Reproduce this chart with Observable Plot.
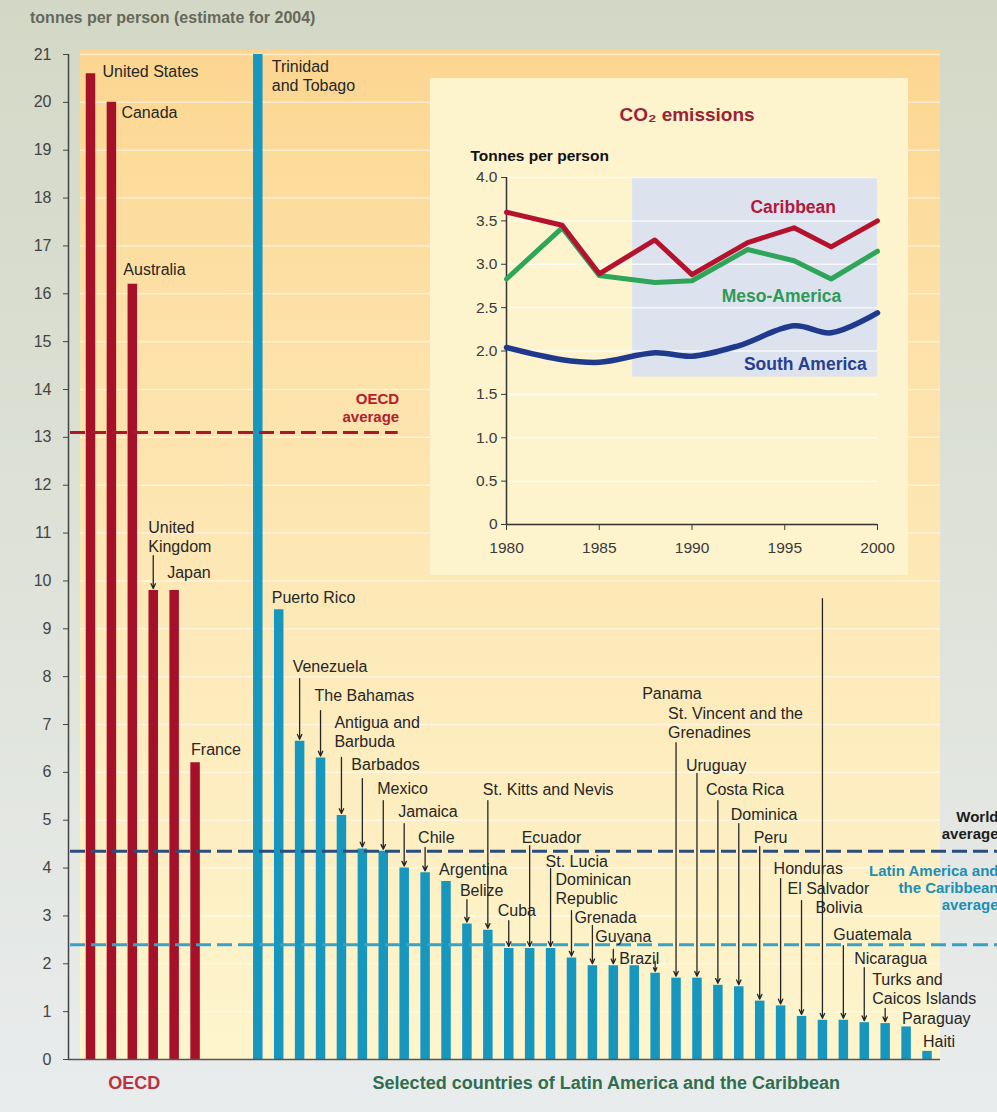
<!DOCTYPE html>
<html><head><meta charset="utf-8">
<script src="https://cdn.jsdelivr.net/npm/d3@7"></script>
<script src="https://cdn.jsdelivr.net/npm/@observablehq/plot@0.6"></script>
<style>
html,body{margin:0;padding:0}
body{width:997px;height:1112px;position:relative;overflow:hidden;background:linear-gradient(to bottom,#d3d8c6 0%,#dde1d6 45%,#e9eced 100%);font-family:"Liberation Sans",Arial,sans-serif}
#panel{position:absolute;left:80px;top:50px;width:860px;height:1009px;background:linear-gradient(to bottom,#fcd690 0%,#fde0a6 25%,#fdeaba 60%,#fdf5cd 100%)}
#title{position:absolute;left:30px;top:9px;font-weight:bold;font-size:16px;color:#66685a;white-space:nowrap}
#main{position:absolute;left:0;top:0}
#inset{position:absolute;left:430px;top:78px}
</style></head>
<body>
<div id="panel"></div>
<div id="title">tonnes per person (estimate for 2004)</div>
<div id="main"></div>
<div id="inset"></div>
<script>
// ---------- main chart data ----------
const oecdCountries = ["United States","Canada","Australia","United Kingdom","Japan","France"];
const oecdValues = [20.6, 20.0, 16.2, 9.8, 9.8, 6.2];
const oecdLabels = ["United States","Canada","Australia","United\nKingdom","Japan","France"];
const oecdLabelY = [20.66, 19.81, 16.53, 10.93, 10.2, 6.5];
const oecdLabelDx = [12, 10, -9, -5, -7, -4];
const oecdLeaderTop = [null, null, null, 10.53, null, null];

const lacCountries = ["Trinidad and Tobago","Puerto Rico","Venezuela","The Bahamas","Antigua and Barbuda","Barbados","Mexico","Jamaica","Chile","Argentina","Belize","St. Kitts and Nevis","Cuba","Ecuador","St. Lucia","Dominican Republic","Grenada","Guyana","Brazil","Panama","St. Vincent and the Grenadines","Uruguay","Costa Rica","Dominica","Peru","Honduras","El Salvador","Bolivia","Guatemala","Nicaragua","Turks and Caicos Islands","Paraguay","Haiti"];
const lacValues = [21.0, 9.4, 6.65, 6.3, 5.1, 4.4, 4.35, 4.0, 3.9, 3.72, 2.83, 2.7, 2.32, 2.32, 2.32, 2.12, 1.96, 1.96, 1.96, 1.8, 1.7, 1.7, 1.55, 1.52, 1.22, 1.12, 0.9, 0.82, 0.82, 0.77, 0.75, 0.68, 0.17];
const lacLabels = ["Trinidad\nand Tobago","Puerto Rico","Venezuela","The Bahamas","Antigua and\nBarbuda","Barbados","Mexico","Jamaica","Chile","Argentina","Belize","St. Kitts and Nevis","Cuba","Ecuador","St. Lucia","Dominican\nRepublic","Grenada","Guyana","Brazil","Panama","St. Vincent and the\nGrenadines","Uruguay","Costa Rica","Dominica","Peru","Honduras","El Salvador","Bolivia","Guatemala","Nicaragua","Turks and\nCaicos Islands","Paraguay","Haiti"];
const lacLabelY = [20.56, 9.67, 8.23, 7.61, 6.85, 6.18, 5.68, 5.2, 4.66, 3.99, 3.55, 5.66, 3.13, 4.66, 4.16, 3.57, 2.99, 2.59, 2.13, 7.67, 7.04, 6.16, 5.66, 5.14, 4.66, 4.01, 3.59, 3.18, 2.63, 2.13, 1.48, 0.88, 0.38];
const lacLabelDx = [14, -7, -7, -6, -7, -11, -6, -6, -7, -7, -7, -5, -11, -8, -5, -16, -18, -18, -15, -13, -8, -11, -12, -8, -6, -7, -14, -7, -10, -10, -13, -4, -4];
const lacLeaderTop = [null, null, 7.96, 7.29, 6.31, 5.87, 5.41, 4.93, 4.43, null, 3.34, 5.41, 2.90, 4.47, 3.99, 3.11, 2.80, 2.30, null, 2.05, 6.62, 5.98, 5.41, 4.93, 4.45, 3.78, 3.32, 9.63, 2.38, 1.92, 1.07, null, null];

const oecdAverage = 13.1;
const worldAverage = 4.35;
const lacAverage = 2.4;
const yTickValues = [0,1,2,3,4,5,6,7,8,9,10,11,12,13,14,15,16,17,18,19,20,21];

// ---------- inset data ----------
const insetYears = [1980, 1983, 1985, 1988, 1990, 1993, 1995.5, 1997.5, 2000];
const caribbean = [3.60, 3.45, 2.89, 3.28, 2.88, 3.25, 3.42, 3.20, 3.50];
const mesoAmerica = [2.83, 3.42, 2.87, 2.79, 2.81, 3.17, 3.04, 2.83, 3.15];
const southAmericaYears = [1980, 1983, 1985, 1988, 1990, 1992.5, 1995.5, 1997.5, 2000];
const southAmerica = [2.04, 1.90, 1.87, 1.98, 1.94, 2.06, 2.29, 2.21, 2.44];
const insetXTicks = [1980, 1985, 1990, 1995, 2000];
const insetYTicks = [0, 0.5, 1, 1.5, 2, 2.5, 3, 3.5, 4];
const shadeBox = [{x1: 1986.8, x2: 2000, y1: 1.7, y2: 4.0}];
const seriesLabels = [
  {text: "Caribbean", year: 1993.15, value: 3.65, color: "#b3173c"},
  {text: "Meso-America", year: 1991.6, value: 2.63, color: "#2c9a58"},
  {text: "South America", year: 1992.8, value: 1.84, color: "#27408f"}
];

// ---------- build tables ----------
const RED = "#a6112a", TEAL = "#1797bd";
const xDomain = [...oecdCountries, "gap1", "gap2", ...lacCountries];
const oecdRows = oecdCountries.map((name, i) => ({name, value: oecdValues[i], label: oecdLabels[i], ly: oecdLabelY[i], dx: oecdLabelDx[i], top: oecdLeaderTop[i]}));
const lacRows = lacCountries.map((name, i) => ({name, value: lacValues[i], label: lacLabels[i], ly: lacLabelY[i], dx: lacLabelDx[i], top: lacLeaderTop[i]}));
const allRows = [...oecdRows, ...lacRows];
const leaders = allRows.filter(d => d.top != null);

const FONT = "Liberation Sans, Arial, sans-serif";
const labelMarks = allRows.map(d => Plot.text([d], {
  x: "name", y: "ly", text: "label", dx: d.dx, textAnchor: "start", lineAnchor: "middle",
  lineHeight: 1.2, fontSize: 16, fill: "#262626"
}));

const main = Plot.plot({
  width: 997, height: 1112,
  marginTop: 54, marginBottom: 53, marginLeft: 68, marginRight: 0,
  style: {background: "none", fontFamily: FONT, fontSize: "15px", color: "#444", overflow: "visible"},
  x: {type: "point", domain: xDomain, range: [90, 926.5], padding: 0, axis: null},
  y: {domain: [0, 21], label: null},
  marks: [
    Plot.ruleY(yTickValues.filter(d => d > 0), {stroke: "#fff", strokeOpacity: 0.55, strokeWidth: 1.5, insetLeft: 12, insetRight: 57}),
    Plot.ruleX(oecdRows, {x: "name", y1: 0, y2: "value", stroke: RED, strokeWidth: 9.5}),
    Plot.ruleX(lacRows, {x: "name", y1: 0, y2: "value", stroke: TEAL, strokeWidth: 9.5}),
    Plot.ruleY([oecdAverage], {x1: () => oecdCountries[0], x2: () => "Jamaica", insetLeft: -20, insetRight: 6, stroke: "#a8192e", strokeWidth: 3, strokeDasharray: "15,6"}),
    Plot.ruleY([worldAverage], {insetLeft: 2, stroke: "#2b4d7e", strokeWidth: 3, strokeDasharray: "15,6"}),
    Plot.ruleY([lacAverage], {insetLeft: 2, stroke: "#38a3c6", strokeWidth: 3, strokeDasharray: "15,6"}),
    Plot.ruleY([0], {stroke: "#555", strokeWidth: 1.5, insetRight: 57}),
    Plot.ruleX([oecdCountries[0]], {x: d => d, y1: 0, y2: 21, dx: -22, stroke: "#444", strokeWidth: 1.5}),
    Plot.axisY({ticks: yTickValues, tickSize: 5, tickPadding: 12, fontSize: 16, fill: "#444", label: null}),
    Plot.arrow(leaders, {x1: "name", x2: "name", y1: "top", y2: "value", insetEnd: 2, headLength: 6, headAngle: 50, stroke: "#262626", strokeWidth: 1.3}),
    ...labelMarks,
    Plot.text([oecdAverage], {x: () => "Jamaica", y: d => d, text: () => "OECD\naverage", dx: -5, dy: -25, textAnchor: "end", lineAnchor: "middle", lineHeight: 1.15, fontWeight: "bold", fontSize: 15, fill: "#b0202e"}),
    Plot.text([worldAverage], {y: d => d, frameAnchor: "right", text: () => "World\naverage", dx: 1, dy: -26, textAnchor: "end", lineAnchor: "middle", lineHeight: 1.15, fontWeight: "bold", fontSize: 15, fill: "#1d1d1d"}),
    Plot.text([lacAverage], {y: d => d, frameAnchor: "right", text: () => "Latin America and\nthe Caribbean\naverage", dx: 1, dy: -57, textAnchor: "end", lineAnchor: "middle", lineHeight: 1.15, fontWeight: "bold", fontSize: 15, fill: "#1c8fb3"}),
    Plot.text(["OECD"], {x: () => "Australia", y: () => 0, text: d => d, dx: 2, dy: 24, fontWeight: "bold", fontSize: 18, fill: "#b83242"}),
    Plot.text(["Selected countries of Latin America and the Caribbean"], {x: () => "Guyana", y: () => 0, text: d => d, dx: -7, dy: 24, fontWeight: "bold", fontSize: 18, fill: "#2f6e4f"})
  ]
});
document.getElementById("main").appendChild(main);

// ---------- inset ----------
const toSeries = (years, vals) => years.map((year, i) => ({year, value: vals[i]}));
const inset = Plot.plot({
  width: 478, height: 497,
  marginTop: 99, marginLeft: 76, marginRight: 31, marginBottom: 51,
  style: {background: "#fdf3cd", fontFamily: FONT, fontSize: "15px", color: "#3a3a3a", overflow: "visible"},
  x: {domain: [1980, 2000], label: null},
  y: {domain: [0, 4], label: null},
  marks: [
    Plot.rect(shadeBox, {x1: "x1", x2: "x2", y1: "y1", y2: "y2", fill: "#dde3ee"}),
    Plot.ruleY(insetYTicks.filter(d => d > 0), {stroke: "#fff", strokeOpacity: 0.75, strokeWidth: 1.5}),
    Plot.ruleY([0], {stroke: "#333", strokeWidth: 1.5}),
    Plot.ruleX([1980], {stroke: "#333", strokeWidth: 1.5}),
    Plot.axisX({ticks: insetXTicks, tickFormat: "d", tickSize: 6, tickPadding: 11, fontSize: 15.5, fill: "#3a3a3a", label: null}),
    Plot.axisY({ticks: insetYTicks, tickFormat: d => d === 0 ? "0" : d.toFixed(1), tickSize: 5, tickPadding: 4, fontSize: 15.5, fill: "#3a3a3a", label: null}),
    Plot.line(toSeries(southAmericaYears, southAmerica), {x: "year", y: "value", stroke: "#1f3a8c", strokeWidth: 5.5, curve: "catmull-rom"}),
    Plot.line(toSeries(insetYears, mesoAmerica), {x: "year", y: "value", stroke: "#2fa55a", strokeWidth: 5, strokeLinejoin: "round"}),
    Plot.line(toSeries(insetYears, caribbean), {x: "year", y: "value", stroke: "#b5122e", strokeWidth: 5, strokeLinejoin: "round"}),
    Plot.text(seriesLabels, {x: "year", y: "value", text: "text", fill: "color", textAnchor: "start", fontWeight: "bold", fontSize: 17.5}),
    Plot.text(["CO₂ emissions"], {frameAnchor: "top", text: d => d, dx: -5, dy: -70, fontWeight: "bold", fontSize: 19, fill: "#9b2335"}),
    Plot.text(["Tonnes per person"], {frameAnchor: "top-left", text: d => d, dx: -36, dy: -28, textAnchor: "start", fontWeight: "bold", fontSize: 15.5, fill: "#111"})
  ]
});
document.getElementById("inset").appendChild(inset);
</script>
</body></html>
